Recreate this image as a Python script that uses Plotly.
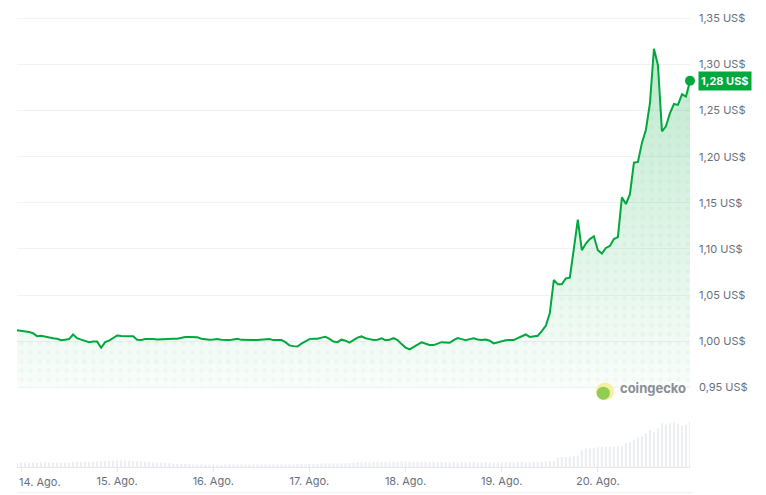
import pandas as pd
import plotly.graph_objects as go

# hourly price (US$) and volume
price = [
    1.0118, 1.0113, 1.0108, 1.0100, 1.0086, 1.0054, 1.0059, 1.0048, 1.0035, 1.0032,
    1.0025, 1.0011, 1.0016, 1.0022, 1.0072, 1.0032, 1.0016, 1.0000, 0.9989, 0.9995,
    0.9995, 0.9928, 0.9989, 1.0005, 1.0032, 1.0061, 1.0056, 1.0056, 1.0056, 1.0054,
    1.0016, 1.0013, 1.0022, 1.0025, 1.0022, 1.0018, 1.0018, 1.0022, 1.0025, 1.0025,
    1.0027, 1.0038, 1.0046, 1.0046, 1.0046, 1.0043, 1.0027, 1.0018, 1.0016, 1.0018,
    1.0022, 1.0016, 1.0011, 1.0011, 1.0018, 1.0025, 1.0014, 1.0011, 1.0011, 1.0011,
    1.0013, 1.0018, 1.0025, 1.0022, 1.0011, 1.0011, 1.0011, 0.9989, 0.9954, 0.9946,
    0.9941, 0.9973, 1.0000, 1.0022, 1.0025, 1.0025, 1.0038, 1.0048, 1.0025, 0.9995,
    0.9989, 1.0016, 1.0005, 0.9984, 1.0011, 1.0038, 1.0051, 1.0032, 1.0022, 1.0013,
    1.0016, 1.0030, 1.0011, 1.0016, 1.0032, 1.0011, 0.9968, 0.9930, 0.9911, 0.9941,
    0.9962, 0.9987, 0.9973, 0.9959, 0.9957, 0.9973, 0.9989, 0.9986, 0.9982, 1.0011,
    1.0034, 1.0022, 1.0011, 1.0022, 1.0032, 1.0018, 1.0013, 1.0018, 1.0005, 0.9975,
    0.9987, 1.0000, 1.0009, 1.0011, 1.0011, 1.0032, 1.0054, 1.0072, 1.0046, 1.0054,
    1.0059, 1.0108, 1.0167, 1.0301, 1.0663, 1.0616, 1.0616, 1.0680, 1.0688, 1.1000,
    1.1319, 1.0986, 1.1059, 1.1107, 1.1137, 1.0986, 1.0949, 1.1011, 1.1032, 1.1107,
    1.1129, 1.1559, 1.1487, 1.1594, 1.1935, 1.1943, 1.2150, 1.2293, 1.2580, 1.3171,
    1.2992, 1.2276, 1.2330, 1.2473, 1.2572, 1.2562, 1.2677, 1.2652, 1.2824,
]

volume = [
    4.6, 4.4, 4.8, 4.5, 4.7, 4.4, 4.6, 4.8, 4.5, 4.7, 4.4, 4.6, 4.5, 4.7, 4.9, 5.0, 5.2, 5.0, 5.4, 5.3,
    5.7, 5.9, 6.1, 6.3, 6.5,
    6.7, 6.8, 6.6, 6.4,
    6.0, 5.8, 5.6, 5.5, 5.2,
    4.7, 4.5, 4.4, 4.3, 4.0,
    3.5, 3.3, 3.0, 3.0,
    2.6, 2.4, 2.5, 2.7, 2.3, 2.5, 2.6, 2.4, 2.2, 2.5, 2.7, 2.4, 2.3, 2.6, 2.5, 2.4, 2.7,
    2.5, 2.3, 2.6, 2.4, 2.5, 2.8, 2.6, 2.4, 2.5, 2.7, 2.9, 3.0, 2.8, 3.1, 3.2, 3.3,
    3.5, 3.6, 3.4, 3.7, 3.6, 3.5, 3.8, 3.9, 4.2,
    4.6, 4.7, 4.8, 4.6, 5.0, 5.7, 5.2, 4.9, 4.8,
    5.3, 5.4, 5.6, 5.5, 5.3, 5.2, 5.4, 5.3, 5.1, 5.0, 4.9,
    4.7, 4.8, 4.6, 4.7, 4.8, 4.7, 4.6, 4.8, 4.7, 4.9, 4.7, 4.6, 4.8, 4.7, 4.6, 4.8, 4.7,
    4.9, 4.8, 4.7, 4.9, 5.0, 4.8, 4.9, 5.1, 5.0, 5.2, 5.4,
    5.7, 5.8,
    9.3, 10.0, 10.0, 10.5, 11.0, 11.2,
    16.7,
    18.7, 19.0, 19.3,
    20.0, 20.0, 20.3, 20.5, 21.0, 21.0, 21.5,
    24.0, 25.0, 27.0, 30.0, 31.0, 34.0, 37.0, 35.0, 39.0, 44.0, 42.7, 44.0, 45.0, 43.7,
    41.7, 42.7, 46.0,
]

times = pd.date_range("2025-08-13 23:00", periods=len(price), freq="h")

y_tick_values = [0.95, 1.00, 1.05, 1.10, 1.15, 1.20, 1.25, 1.30, 1.35]
y_tick_labels = ["0,95 US$", "1,00 US$", "1,05 US$", "1,10 US$", "1,15 US$",
                 "1,20 US$", "1,25 US$", "1,30 US$", "1,35 US$"]
x_tick_dates = pd.date_range("2025-08-14", "2025-08-20", freq="D")
x_tick_labels = ["14. Ago.", "15. Ago.", "16. Ago.", "17. Ago.", "18. Ago.", "19. Ago.", "20. Ago."]
last_label = "1,28 US$"
fill_floor = 0.95

green = "#00a83e"
grey_text = "#68707d"

fig = go.Figure()

fig.add_trace(go.Bar(x=times, y=volume, yaxis="y2", width=1_900_000,
                     marker=dict(color="#eceef2", line_width=0), hoverinfo="skip"))

# gradient fill under the line
fig.add_trace(go.Scatter(x=[times[0], times[-1]], y=[fill_floor, fill_floor], mode="lines",
                         line=dict(width=0), hoverinfo="skip"))
fig.add_trace(go.Scatter(x=times, y=price, mode="lines", line=dict(width=0), fill="tonexty",
                         fillgradient=dict(type="vertical", start=fill_floor, stop=1.30,
                                           colorscale=[[0, "rgba(0,168,62,0.02)"],
                                                       [1, "rgba(0,168,62,0.24)"]]),
                         hoverinfo="skip"))
# dotted texture
fig.add_trace(go.Scatter(x=[times[0], times[-1]], y=[fill_floor, fill_floor], mode="lines",
                         line=dict(width=0), hoverinfo="skip"))
fig.add_trace(go.Scatter(x=times, y=price, mode="lines", line=dict(width=0), fill="tonexty",
                         fillcolor="rgba(0,0,0,0)",
                         fillpattern=dict(shape=".", fgcolor="rgba(0,150,60,0.09)",
                                          bgcolor="rgba(0,0,0,0)", size=9, solidity=0.2),
                         hoverinfo="skip"))

fig.add_trace(go.Scatter(x=times, y=price, mode="lines", line=dict(color=green, width=2)))
fig.add_trace(go.Scatter(x=[times[-1]], y=[price[-1]], mode="markers",
                         marker=dict(color=green, size=10), cliponaxis=False))

fig.add_annotation(x=1, xref="paper", xanchor="left", xshift=8, y=price[-1], yref="y",
                   text="<b>" + last_label + "</b>", showarrow=False, bgcolor=green,
                   font=dict(color="white", size=11), borderpad=2)
fig.add_annotation(x=0, xref="paper", xanchor="left", y=0, yref="paper", yanchor="top", yshift=-6,
                   text=x_tick_labels[0], showarrow=False, font=dict(color=grey_text, size=11))
fig.add_annotation(x=1, xref="paper", xanchor="right", xshift=-2, y=0.1754, yref="paper",
                   yanchor="middle", text="<b>coingecko</b>", showarrow=False,
                   font=dict(color="#8a8e96", size=13))

# gecko logo
fig.add_shape(type="circle", xref="paper", yref="paper", x0=0.8603, x1=0.8871, y0=0.1476, y1=0.1870,
              fillcolor="#f6eea0", line_width=0)
fig.add_shape(type="circle", xref="paper", yref="paper", x0=0.8613, x1=0.8810, y0=0.1490, y1=0.1776,
              fillcolor="#93cc55", line_width=0)
fig.add_shape(type="line", xref="paper", yref="paper", x0=0, x1=1.003, y0=-0.0570, y1=-0.0570,
              line=dict(color="#eceef1", width=1))

fig.update_layout(
    width=758, height=487,
    margin=dict(l=9, r=76, t=3, b=28),
    paper_bgcolor="white", plot_bgcolor="white",
    showlegend=False,
    font=dict(family="Inter", size=11, color=grey_text),
    xaxis=dict(type="date", range=[times[0], times[-1]], showgrid=False, zeroline=False,
               tickvals=x_tick_dates, ticktext=[""] + x_tick_labels[1:],
               showline=True, linecolor="#e6e8ec", ticks="outside", ticklen=4,
               tickcolor="#e6e8ec", tickfont=dict(size=11, color=grey_text)),
    yaxis=dict(side="right", range=[0.8635, 1.3537], tickvals=y_tick_values, ticktext=y_tick_labels,
               showgrid=True, gridcolor="#f1f2f4", zeroline=False, showline=False, ticks="",
               ticklabelstandoff=8, ticklabeloverflow="allow",
               tickfont=dict(size=11, color=grey_text)),
    yaxis2=dict(overlaying="y", range=[0, 456], visible=False),
)

fig.write_html("out.html")
